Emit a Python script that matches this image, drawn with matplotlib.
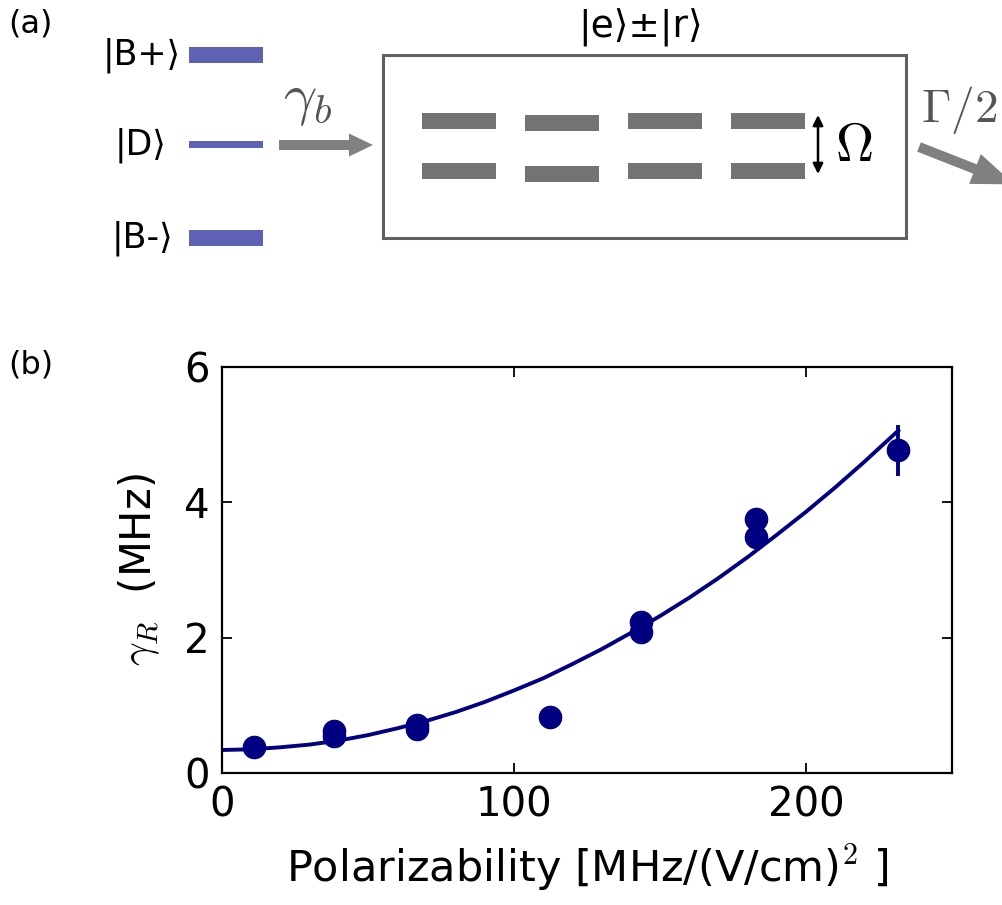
import numpy as np
import matplotlib
matplotlib.use("Agg")
import matplotlib.pyplot as plt
from matplotlib.patches import Rectangle, FancyArrow

plt.rcParams["font.family"] = ["DejaVu Sans"]
plt.rcParams["mathtext.fontset"] = "cm"

# ── data ────────────────────────────────────────────────────────────────────
pol_x   = [10.8, 38.3, 38.3, 66.9, 66.9, 112.2, 143.6, 143.6, 182.8, 182.8, 231.6]
gamma_r = [0.39, 0.55, 0.62, 0.65, 0.71, 0.83, 2.09, 2.23, 3.49, 3.75, 4.77]
gamma_err = [0, 0, 0, 0, 0, 0, 0, 0, 0, 0, 0.38]

# fitted curve, read every 10 units
fit_x = [0, 10, 20, 30, 40, 50, 60, 70, 80, 90, 100, 110, 120, 130, 140,
         150, 160, 170, 180, 190, 200, 210, 220, 231.6]
fit_y = [0.34, 0.35, 0.38, 0.42, 0.48, 0.56, 0.66, 0.77, 0.90, 1.05, 1.22, 1.40,
         1.61, 1.83, 2.07, 2.32, 2.59, 2.88, 3.19, 3.52, 3.86, 4.22, 4.60, 5.06]

xticks = [0, 100, 200]
yticks = [0, 2, 4, 6]

NAVY = "#000080"
BLUE = "#5d62b5"
GRAY = "#737373"

W, H = 1003, 905
fig = plt.figure(figsize=(W / 100, H / 100), dpi=100)

# ── (a) schematic, drawn in pixel coordinates ───────────────────────────────
sk = fig.add_axes([0, 0, 1, 1])
sk.set_xlim(0, W)
sk.set_ylim(H, 0)
sk.axis("off")

sk.text(8, 24, "(a)", fontsize=23, va="center", ha="left")
sk.text(8, 365, "(b)", fontsize=23, va="center", ha="left")

# bright / dark states
for yc, h, lab, xr in [(55, 16, "|B+⟩", 181), (145, 7, "|D⟩", 166), (238, 16, "|B-⟩", 173)]:
    sk.add_patch(Rectangle((189, yc - h / 2), 74, h, color=BLUE, lw=0))
    sk.text(xr, yc, lab, fontsize=25, ha="right", va="center")

# gamma_b arrow
sk.add_patch(FancyArrow(279, 145, 70, 0, width=10, head_width=23, head_length=24,
                        length_includes_head=False, color="#808080", lw=0))
sk.text(283, 100, r"$\gamma_b$", fontsize=42, color="#555555", ha="left", va="center")

# box with coupled states
sk.add_patch(Rectangle((383, 55), 523, 183, fill=False, ec="#606060", lw=2.2))
sk.text(641, 28, "|e⟩±|r⟩", fontsize=27, ha="center", va="center")
for i, x0 in enumerate([422, 525, 628, 731]):
    off = 2 if i == 1 else 0
    sk.add_patch(Rectangle((x0, 113 + off), 74, 16, color=GRAY, lw=0))
    sk.add_patch(Rectangle((x0, 163 + off * 1.5), 74, 16, color=GRAY, lw=0))

sk.annotate("", xy=(818, 115), xytext=(818, 174),
            arrowprops=dict(arrowstyle="<|-|>", color="black", lw=1.8,
                            mutation_scale=15, shrinkA=0, shrinkB=0))
sk.text(835, 146, r"$\Omega$", fontsize=38, ha="left", va="center")

# Gamma/2 decay arrow (runs off the right edge)
sk.add_patch(FancyArrow(919, 147, 56, 22, width=10, head_width=32, head_length=42,
                        color="#808080", lw=0))
sk.text(921, 110, r"$\Gamma/2$", fontsize=34, color="#555555", ha="left", va="center")

# ── (b) decay rate vs polarizability ────────────────────────────────────────
ax = fig.add_axes([222 / W, 1 - 773 / H, (952 - 222) / W, (773 - 367) / H])
ax.plot(fit_x, fit_y, color=NAVY, lw=2.8, zorder=2)
ax.errorbar(pol_x, gamma_r, yerr=gamma_err, fmt="o", color=NAVY, ms=16,
            elinewidth=2.8, capsize=0, zorder=3)

ax.set_xlim(0, 250)
ax.set_ylim(0, 6)
ax.set_xticks(xticks)
ax.set_yticks(yticks)
ax.tick_params(direction="in", length=7, width=1.3, labelsize=29, pad=9,
               top=True, right=True)
for sp in ax.spines.values():
    sp.set_linewidth(1.6)

ax.set_xlabel(r"Polarizability [MHz/(V/cm)$^2$ ]", fontsize=31, labelpad=12)
ax.set_ylabel(r"$\gamma_R$  (MHz)", fontsize=30, labelpad=16)

fig.savefig("out.png", dpi=100)
